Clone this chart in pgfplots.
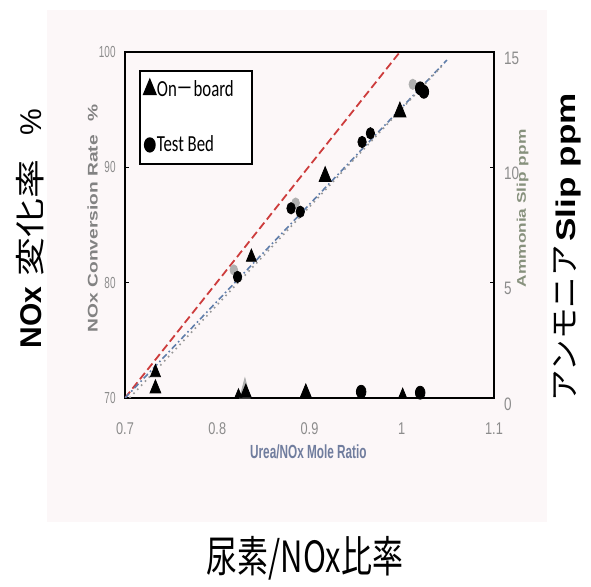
\documentclass[border=0pt]{standalone}
\usepackage{pgfplots}
\pgfplotsset{compat=1.18}
\usepackage{fontspec}
\setmainfont{Liberation Sans}
\newfontfamily\ytickfont[FakeStretch=0.62]{Liberation Sans}
\newfontfamily\xtickfont[FakeStretch=0.75]{Liberation Sans}
\newfontfamily\xlabfont[FakeStretch=0.62]{Liberation Sans}
\newfontfamily\vlabfont[FakeStretch=1.37]{Liberation Sans}
\newfontfamily\slipfont[FakeStretch=1.3]{Liberation Sans}
\newfontfamily\legfont[FakeStretch=0.73]{Carlito}
\newfontfamily\legcjk[FakeStretch=0.73]{Noto Sans CJK JP}
\newfontfamily\cjkv[FakeStretch=1.3]{Noto Sans CJK JP}
\newfontfamily\cjkr[FakeStretch=1.05]{Noto Sans CJK JP}
\newfontfamily\cjkh[FakeStretch=0.72]{Noto Sans CJK JP}
\definecolor{tickgray}{RGB}{140,140,140}
\definecolor{xlabcol}{RGB}{112,125,158}
\definecolor{ylabcol}{RGB}{130,130,130}
\definecolor{ytwocol}{RGB}{135,145,125}
\definecolor{bgpink}{RGB}{252,247,248}
\definecolor{redl}{RGB}{205,60,60}
\definecolor{bluel}{RGB}{95,125,170}
\definecolor{grayl}{RGB}{150,150,150}
\definecolor{ghost}{RGB}{175,175,175}
\definecolor{baseline}{RGB}{120,130,160}
\begin{document}
\begin{tikzpicture}
\useasboundingbox (-62.5pt,-94.5pt) rectangle (233pt,199pt);
\fill[bgpink] (-39pt,-62pt) rectangle (211pt,194pt);
\begin{axis}[
  width=184.5pt, height=173pt, scale only axis,
  at={(0,0)}, anchor=south west,
  xmin=0.7, xmax=1.1, ymin=70, ymax=100,
  xtick={0.7,0.8,0.9,1,1.1}, xticklabels={0.7,0.8,0.9,1,1.1},
  ytick={70,80,90,100}, yticklabels={70,80,90,100},
  ytick pos=left, xtick pos=bottom,
  /pgf/number format/assume math mode=true,
  axis line style={line width=1.2pt},
  tick align=inside, major tick length=1.8pt,
  ytick style={black, line width=0.6pt},
  xtick style={draw=none},
  yticklabel style={font=\ytickfont\fontsize{8}{9}\selectfont, text=tickgray, xshift=-1.2pt},
  xticklabel style={font=\xtickfont\fontsize{8.5}{9}\selectfont, text=tickgray, yshift=-9pt},
  xlabel={Urea/NOx Mole Ratio},
  xlabel style={at={(axis description cs:0.497,0)}, anchor=center, yshift=-27pt,
    font=\xlabfont\bfseries\fontsize{9.5}{10}\selectfont, text=xlabcol},
  ylabel={NOx Conversion Rate\hspace{7pt}\%},
  ylabel style={at={([xshift=-16.25pt]axis description cs:0,0.52)}, anchor=center,
    font=\vlabfont\bfseries\fontsize{7}{8}\selectfont, text=ylabcol},
  legend style={at={(rel axis cs:0.038,0.948)}, anchor=north west, draw=black,
    line width=0.9pt, fill=white, inner xsep=2pt, inner ysep=4pt, row sep=17pt,
    font=\legfont\fontsize{11.5}{12}\selectfont, nodes={inner sep=0.6pt}},
  legend cell align=left,
  legend image code/.code={\draw[mark repeat=2,mark phase=2,#1] plot coordinates {(0pt,0pt)(3.2pt,0pt)(6.4pt,0pt)};},
]
\addlegendimage{only marks, mark=triangle*, black, mark size=3.4pt, mark options={yscale=1.4}}
\addlegendentry{\makebox[45pt][l]{On{\legcjk －}board}}
\addlegendimage{only marks, mark=*, black, mark size=2.5pt, mark options={yscale=1.35}}
\addlegendentry{\makebox[45pt][l]{Test Bed}}
% fitted lines
\addplot[redl, line width=0.9pt, dash pattern=on 4pt off 2pt, forget plot] coordinates {(0.7,70) (0.998,100)};
\addplot[bluel, line width=0.8pt, dash pattern=on 3pt off 1.5pt on 0.8pt off 1.5pt, forget plot] coordinates {(0.7,70) (1.049,99.3)};
\addplot[grayl, line width=0.8pt, dotted, forget plot] coordinates {(0.705,70) (1.045,98.9)};
% ghost marks
\addplot[only marks, ghost, mark=*, mark size=1.9pt, mark options={yscale=1.35}, forget plot] coordinates {(0.818,81.1) (0.885,86.9) (1.012,97.2)};
% on-board conversion
\addplot[only marks, black, mark=triangle*, mark size=2.9pt, mark options={yscale=1.4}, forget plot] coordinates {(0.733,72.2) (0.837,82.2)};
\addplot[only marks, black, mark=triangle*, mark size=3.5pt, mark options={yscale=1.4}, forget plot] coordinates {(0.917,89.2) (0.998,94.8)};
% test bed conversion
\addplot[only marks, black, mark=*, mark size=2.1pt, mark options={yscale=1.35}, forget plot] coordinates {(0.822,80.5) (0.880,86.45) (0.890,86.15) (0.957,92.2) (0.966,92.95)};
\addplot[only marks, black, mark=*, mark size=2.4pt, mark options={yscale=1.35}, forget plot] coordinates {(1.020,96.85) (1.024,96.55)};
\draw[baseline, line width=0.9pt] ([yshift=-1.7pt]rel axis cs:0,0) -- ([yshift=-1.7pt]rel axis cs:1,0);
\end{axis}
\begin{axis}[
  width=184.5pt, height=173pt, scale only axis,
  at={(0,0)}, anchor=south west,
  xmin=0.7, xmax=1.1, ymin=0, ymax=15,
  axis x line=none, axis y line*=right,
  ytick={0,5,10,15}, yticklabels={0,5,10,15},
  /pgf/number format/assume math mode=true,
  y axis line style={line width=1.2pt},
  tick align=inside, major tick length=1.8pt,
  ytick style={black, line width=0.6pt},
  yticklabel style={font=\xtickfont\fontsize{9}{9}\selectfont, text=tickgray, xshift=1.5pt, yshift=-3pt},
  ylabel={Ammonia Slip\hspace{3pt}ppm},
  ylabel style={at={([xshift=14.25pt]axis description cs:1,0.548)}, anchor=center,
    font=\vlabfont\bfseries\fontsize{6.3}{7}\selectfont, text=ytwocol},
]
\addplot[only marks, ghost, mark=triangle*, mark size=3pt, mark options={yscale=2.2}] coordinates {(0.830,0.29)};
\addplot[only marks, black, mark=triangle*, mark size=3.1pt, mark options={yscale=1.4}] coordinates {(0.733,0.41) (0.831,0.22) (0.896,0.23)};
\addplot[only marks, black, mark=triangle*, mark size=2pt, mark options={yscale=1.4}] coordinates {(0.823,0.15) (1.001,0.18)};
\addplot[only marks, black, mark=*, mark size=2.4pt, mark options={yscale=1.35}] coordinates {(0.956,0.27) (1.020,0.23)};
\end{axis}
\node[rotate=90, anchor=center, inner sep=0pt] at (-47.5pt,84.75pt)
  {\fontsize{15}{15}\selectfont\bfseries NOx\hspace{5pt}{\mdseries\cjkv 変化率}\hspace{12pt}{\mdseries\%}};
\node[rotate=90, anchor=center, inner sep=0pt] at (221.25pt,75.25pt)
  {{\cjkr\fontsize{15}{15}\selectfont アンモニア}\hspace{2pt}{\slipfont\bfseries\fontsize{13.5}{14}\selectfont Slip ppm}};
\node[anchor=center, inner sep=0pt] at (90pt,-80pt)
  {\cjkh\fontsize{21.5}{22}\selectfont 尿素/NOx比率};
\end{tikzpicture}
\end{document}
